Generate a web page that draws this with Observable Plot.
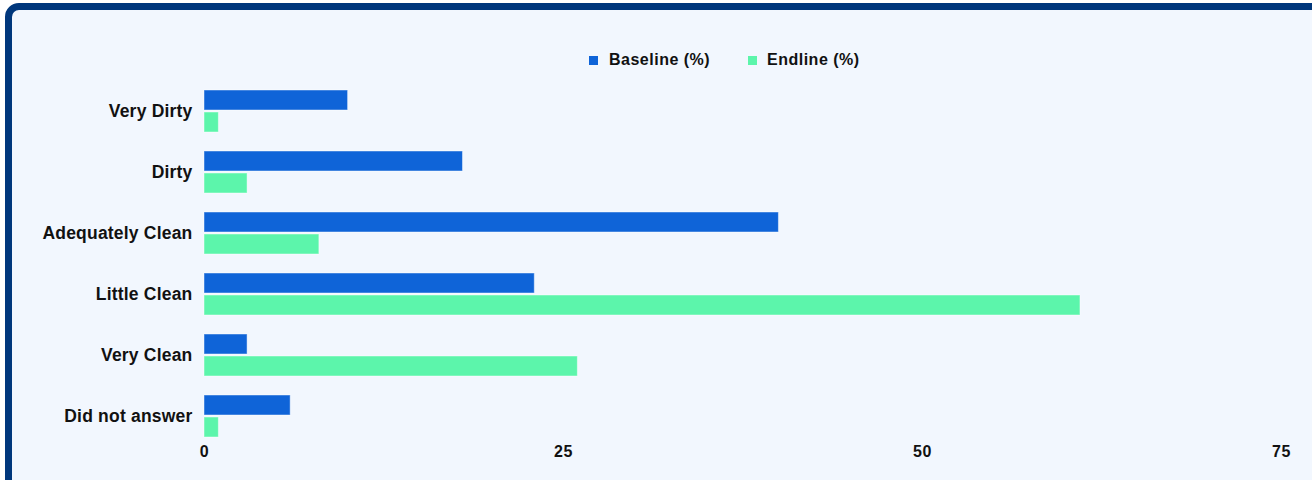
<!DOCTYPE html>
<html>
<head>
<meta charset="utf-8">
<script src="https://cdn.jsdelivr.net/npm/d3@7"></script>
<script src="https://cdn.jsdelivr.net/npm/@observablehq/plot@0.6"></script>
<style>
  html, body { margin: 0; padding: 0; background: #ffffff; width: 1312px; height: 480px; overflow: hidden; }
  body { position: relative; font-family: "Liberation Sans", Arial, sans-serif; }
  #frame { position: absolute; left: 5px; top: 3px; width: 1400px; height: 600px; box-sizing: border-box;
           border: 7px solid #00377c; border-radius: 14px; background: #f2f7fe; }
  #chart { position: absolute; left: 0; top: 0; }
  .sw { position: absolute; width: 9px; height: 9px; }
  .lt { position: absolute; font-weight: bold; font-size: 16px; letter-spacing: 0.5px; color: #111; line-height: 18px; white-space: nowrap; }
  g[aria-label="fy-axis tick label"] text { font-size: 17.5px; letter-spacing: 0.2px; }
  g[aria-label="x-axis tick label"] text { font-size: 16px; letter-spacing: 0.6px; }
</style>
</head>
<body>
<div id="frame"></div>
<div id="chart"></div>
<div class="sw" style="left:589px; top:56px; background:#0f64d8;"></div>
<div class="lt" style="left:609px; top:51px;">Baseline (%)</div>
<div class="sw" style="left:748px; top:56px; background:#5cf5ab;"></div>
<div class="lt" style="left:767px; top:51px;">Endline (%)</div>
<script>
const categories = ["Very Dirty", "Dirty", "Adequately Clean", "Little Clean", "Very Clean", "Did not answer"];
const seriesNames = ["Baseline (%)", "Endline (%)"];
const baseline = [10, 18, 40, 23, 3, 6];
const endline = [1, 3, 8, 61, 26, 1];
const xTicks = [0, 25, 50, 75];
const colors = ["#0f64d8", "#5cf5ab"];

const data = [];
categories.forEach((c, i) => {
  data.push({category: c, series: seriesNames[0], value: baseline[i]});
  data.push({category: c, series: seriesNames[1], value: endline[i]});
});

const chart = Plot.plot({
  width: 1312,
  height: 480,
  marginLeft: 204,
  marginRight: 31,
  marginTop: 82,
  marginBottom: 35,
  style: {background: "transparent", fontFamily: "'Liberation Sans', Arial, sans-serif", fontSize: "15px", fontWeight: "bold", color: "#111"},
  x: {domain: [0, 75], ticks: xTicks, tickSize: 0, tickPadding: 7, label: null, axis: "bottom"},
  y: {domain: seriesNames, axis: null, paddingInner: 0.08, paddingOuter: 0},
  fy: {domain: categories, axis: "left", label: null, tickSize: 0, tickPadding: 12, paddingInner: 0.28, paddingOuter: 0.1},
  color: {domain: seriesNames, range: colors},
  marks: [
    Plot.barX(data, {x: "value", y: "series", fy: "category", fill: "series", stroke: "#ffffff", strokeOpacity: 0.45, strokeWidth: 1})
  ]
});
document.getElementById("chart").appendChild(chart);
</script>
</body>
</html>
